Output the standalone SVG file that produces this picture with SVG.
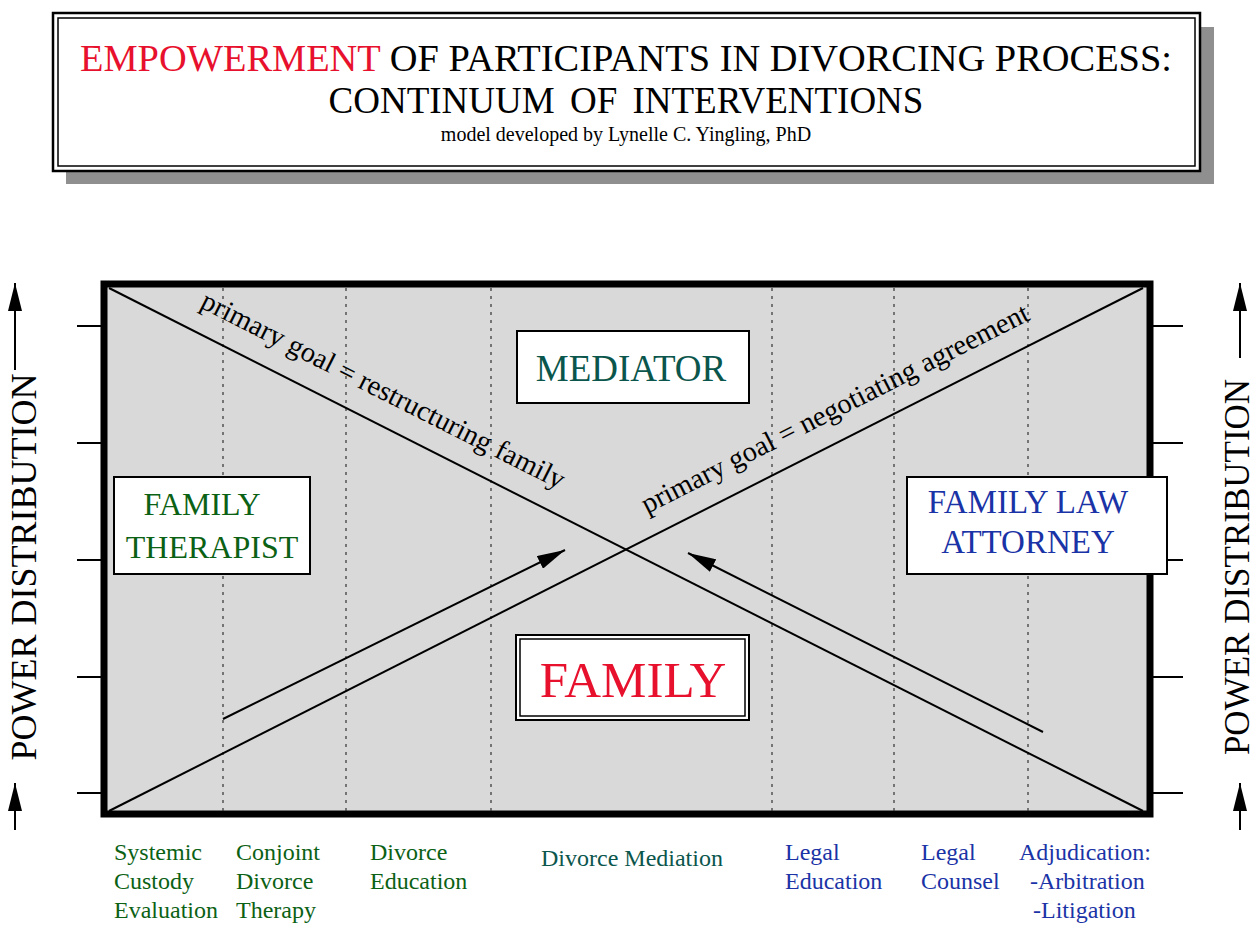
<svg xmlns="http://www.w3.org/2000/svg" width="1257" height="930" viewBox="0 0 1257 930">
<style>
text{font-family:"Liberation Serif","Times New Roman",serif}
.box{fill:#fff;stroke:#000;stroke-width:2}
.dot{stroke:#333;stroke-width:1.2;stroke-dasharray:3 5}
.ln{stroke:#000;stroke-width:2;fill:none}
.tick{stroke:#000;stroke-width:2}
.g{fill:#0b6114;font-size:24px}
.b{fill:#1a33a6;font-size:24px}
.t{fill:#0b564c}
</style>
<defs>
<marker id="ah2" viewBox="0 0 10 10" refX="10" refY="5" markerWidth="28" markerHeight="14" markerUnits="userSpaceOnUse" orient="auto" preserveAspectRatio="none"><path d="M0,0L10,5L0,10z" fill="#000"/></marker>
</defs>
<rect width="1257" height="930" fill="#fff"/>
<g id="title">
<rect x="66" y="27" width="1148" height="157" fill="#8f8f8f"/>
<rect x="53" y="13" width="1147" height="158" fill="#fff" stroke="#000" stroke-width="2.5"/>
<rect x="58" y="18" width="1137" height="148" fill="none" stroke="#000" stroke-width="1.5"/>
<text x="80" y="71" font-size="37" textLength="1092" lengthAdjust="spacingAndGlyphs"><tspan fill="#e8112d">EMPOWERMENT</tspan> OF  PARTICIPANTS  IN  DIVORCING  PROCESS:</text>
<text x="626" y="113" font-size="37" text-anchor="middle" word-spacing="6">CONTINUUM OF INTERVENTIONS</text>
<text x="626" y="141" font-size="20" text-anchor="middle">model developed by Lynelle C. Yingling, PhD</text>
</g>
<g id="frame">
<rect x="104" y="284" width="1046" height="530" fill="#d9d9d9" stroke="#000" stroke-width="7"/>
<line class="dot" x1="223" y1="288" x2="223" y2="811"/>
<line class="dot" x1="346" y1="288" x2="346" y2="811"/>
<line class="dot" x1="491" y1="288" x2="491" y2="811"/>
<line class="dot" x1="772" y1="288" x2="772" y2="811"/>
<line class="dot" x1="894" y1="288" x2="894" y2="811"/>
<line class="dot" x1="1028" y1="288" x2="1028" y2="811"/>
<g class="tick">
<line x1="77" y1="326" x2="101" y2="326"/><line x1="77" y1="443" x2="101" y2="443"/><line x1="77" y1="560" x2="101" y2="560"/><line x1="77" y1="677" x2="101" y2="677"/><line x1="77" y1="793" x2="101" y2="793"/>
<line x1="1153" y1="326" x2="1183" y2="326"/><line x1="1153" y1="443" x2="1183" y2="443"/><line x1="1153" y1="560" x2="1183" y2="560"/><line x1="1153" y1="677" x2="1183" y2="677"/><line x1="1153" y1="793" x2="1183" y2="793"/>
</g>
</g>
<g id="connectors">
<line class="ln" x1="109" y1="288" x2="1143" y2="811"/>
<line class="ln" x1="109" y1="811" x2="1143" y2="288"/>
<line class="ln" x1="223" y1="719" x2="565" y2="550" marker-end="url(#ah2)"/>
<line class="ln" x1="1043" y1="732" x2="688" y2="553" marker-end="url(#ah2)"/>
<line class="ln" x1="15" y1="830" x2="15" y2="783" marker-end="url(#ah2)"/>
<line class="ln" x1="15" y1="370" x2="15" y2="283" marker-end="url(#ah2)"/>
<line class="ln" x1="1240" y1="830" x2="1240" y2="783" marker-end="url(#ah2)"/>
<line class="ln" x1="1240" y1="358" x2="1240" y2="283" marker-end="url(#ah2)"/>
</g>
<g id="goal-labels">
<text font-size="28.5" transform="translate(199,307) rotate(26.87)">primary goal = restructuring family</text>
<text font-size="28.5" transform="translate(647,514) rotate(-26.87)">primary goal = negotiating agreement</text>
</g>
<g id="axis-labels">
<text font-size="36" text-anchor="middle" transform="translate(36,567) rotate(-90)">POWER DISTRIBUTION</text>
<text font-size="35" text-anchor="middle" transform="translate(1249,567) rotate(-90)">POWER DISTRIBUTION</text>
</g>
<g id="mediator">
<rect class="box" x="517" y="331" width="232" height="72"/>
<text class="t" x="631" y="381" font-size="37" text-anchor="middle">MEDIATOR</text>
</g>
<g id="family-therapist">
<rect class="box" x="114" y="477" width="196" height="97"/>
<text x="202" y="515" font-size="32" fill="#0b6114" text-anchor="middle">FAMILY</text>
<text x="212" y="558" font-size="32" fill="#0b6114" text-anchor="middle">THERAPIST</text>
</g>
<g id="family-law-attorney">
<rect class="box" x="907" y="477" width="260" height="97"/>
<text x="1028" y="513" font-size="33" fill="#1a33a6" text-anchor="middle">FAMILY LAW</text>
<text x="1028" y="553" font-size="33" fill="#1a33a6" text-anchor="middle">ATTORNEY</text>
</g>
<g id="family">
<rect x="516" y="635" width="233" height="85" fill="#fff" stroke="#000" stroke-width="2"/>
<rect x="520" y="639" width="225" height="77" fill="#fff" stroke="#000" stroke-width="1.5"/>
<text x="633" y="697" font-size="51" fill="#e8112d" text-anchor="middle">FAMILY</text>
</g>
<g id="interventions">
<text class="g" x="114" y="860">Systemic<tspan x="114" dy="29">Custody</tspan><tspan x="114" dy="29">Evaluation</tspan></text>
<text class="g" x="236" y="860">Conjoint<tspan x="236" dy="29">Divorce</tspan><tspan x="236" dy="29">Therapy</tspan></text>
<text class="g" x="370" y="860">Divorce<tspan x="370" dy="29">Education</tspan></text>
<text class="t" x="541" y="866" font-size="24">Divorce Mediation</text>
<text class="b" x="785" y="860">Legal<tspan x="785" dy="29">Education</tspan></text>
<text class="b" x="921" y="860">Legal<tspan x="921" dy="29">Counsel</tspan></text>
<text class="b" x="1019" y="860">Adjudication:<tspan x="1030" dy="29">-Arbitration</tspan><tspan x="1033" dy="29">-Litigation</tspan></text>
</g>
</svg>
